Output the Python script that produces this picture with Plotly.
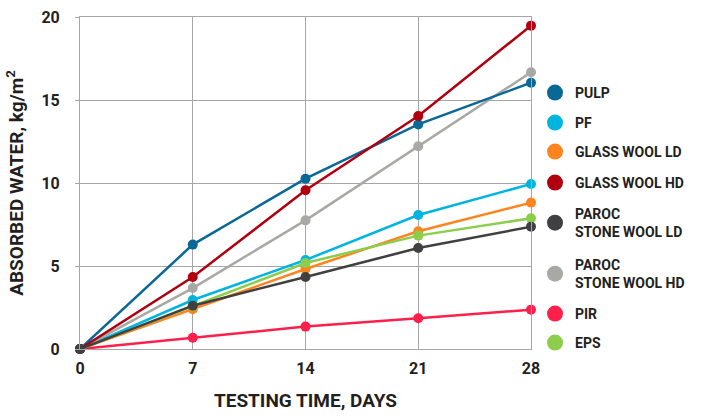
import plotly.graph_objects as go

days = [0, 7, 14, 21, 28]
names = ["PULP", "PF", "GLASS WOOL LD", "GLASS WOOL HD",
         "PAROC<br>STONE WOOL LD", "PAROC<br>STONE WOOL HD", "PIR", "EPS"]
colors = ["#0a6896", "#00b4e0", "#ff8420", "#b0000f",
          "#404042", "#a8a8a4", "#ff1f4b", "#8cce4c"]
pulp = [0, 6.29, 10.26, 13.53, 16.04]
pf = [0, 2.95, 5.36, 8.07, 9.94]
glass_ld = [0, 2.39, 4.82, 7.09, 8.82]
glass_hd = [0, 4.34, 9.56, 14.04, 19.48]
stone_ld = [0, 2.61, 4.34, 6.08, 7.37]
stone_hd = [0, 3.67, 7.75, 12.21, 16.67]
pir = [0, 0.68, 1.35, 1.85, 2.37]
eps = [0, 2.57, 5.18, 6.83, 7.87]
series = [pulp, pf, glass_ld, glass_hd, stone_ld, stone_hd, pir, eps]
# vertical centres (px from top) of legend entries
legend_px = [93, 123, 152, 183, 223, 274, 314, 343]

FONT = "Roboto, Arial, sans-serif"
TXT = "#231f20"
GRID = "#a6a6a6"
W, H = 703, 418
L, R, T, B = 80, 172, 17, 69
plot_h = H - T - B
plot_w = W - L - R

fig = go.Figure()
draw_order = [6, 1, 2, 7, 5, 0, 3, 4]
for i in draw_order:
    fig.add_trace(go.Scatter(
        x=days, y=series[i], mode="lines+markers", name=names[i],
        line=dict(color=colors[i], width=2.5),
        marker=dict(color=colors[i], size=10),
        showlegend=False, cliponaxis=False))

legends = {}
for i in range(len(names)):
    key = "legend" if i == 0 else f"legend{i + 1}"
    fig.add_trace(go.Scatter(
        x=[None], y=[None], mode="markers", name=names[i],
        marker=dict(color=colors[i], size=16),
        legend=key, showlegend=True))
    legends[key] = dict(
        x=(535 - L) / plot_w, xanchor="left",
        y=(H - B - legend_px[i]) / plot_h, yanchor="middle",
        font=dict(family=FONT, size=14, color=TXT, weight=700),
        itemwidth=30, bgcolor="rgba(0,0,0,0)")

fig.update_layout(
    width=W, height=H,
    margin=dict(l=L, r=R, t=T, b=B, autoexpand=False),
    paper_bgcolor="white", plot_bgcolor="white",
    font=dict(family=FONT, color=TXT, size=16, weight=700),
    showlegend=True,
    **legends,
)
fig.update_xaxes(range=[0, 28], tickvals=days, ticktext=[str(d) for d in days],
                 showgrid=True, gridcolor=GRID, gridwidth=1,
                 showline=True, linecolor=GRID, linewidth=1, mirror=True,
                 zeroline=False, ticks="", ticklabelstandoff=5,
                 tickfont=dict(size=16, family=FONT, color=TXT, weight=700),
                 title=dict(text="TESTING TIME, DAYS", standoff=16,
                            font=dict(size=19, family=FONT, color=TXT, weight=700)))
fig.update_yaxes(range=[0, 20], tickvals=[0, 5, 10, 15, 20],
                 showgrid=True, gridcolor=GRID, gridwidth=1,
                 showline=True, linecolor=GRID, linewidth=1, mirror=True,
                 zeroline=False, ticks="outside", ticklen=4, tickcolor=GRID,
                 ticklabelstandoff=12,
                 tickfont=dict(size=16, family=FONT, color=TXT, weight=700),
                 title=dict(text="ABSORBED WATER, kg/m<sup>2</sup>", standoff=12,
                            font=dict(size=19, family=FONT, color=TXT, weight=700)))

fig.write_html("out.html", config={"displayModeBar": False},
               post_script="document.body.style.margin='0';")
